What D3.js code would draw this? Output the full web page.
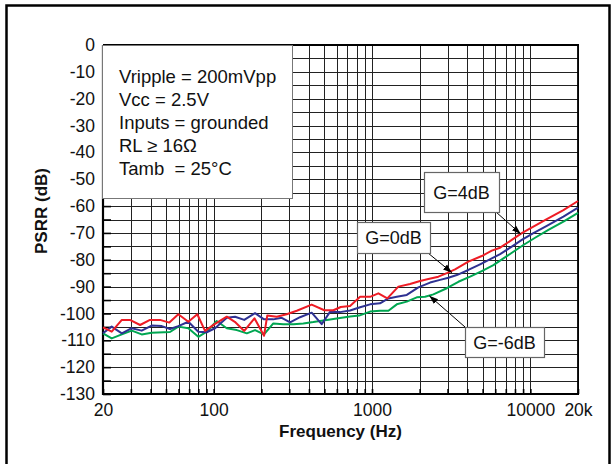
<!DOCTYPE html>
<html><head><meta charset="utf-8">
<script src="https://cdn.jsdelivr.net/npm/d3@7"></script>
<style>body{margin:0;background:#fff}svg{display:block}text{font-family:"Liberation Sans",Arial,Helvetica,sans-serif;white-space:pre}</style>
</head><body><svg id="c" width="615" height="464"></svg>
<script>
const xTickLabels = [20, 100, 1000, 10000, 20000];
const xTickText = ["20", "100", "1000", "10000", "20k"];
const xGrid = [20,30,40,50,60,70,80,90,100,200,300,400,500,600,700,800,900,1000,2000,3000,4000,5000,6000,7000,8000,9000,10000,20000];
const yTickLabels = [0,-10,-20,-30,-40,-50,-60,-70,-80,-90,-100,-110,-120,-130];
const yGrid = d3.range(0, -131, -5);

const redFreq = [20,22.7,26.3,29.6,34.3,39.6,45.8,52.5,59.8,69.2,78.8,88.2,102,121,136,156,181,208,218,250,289,335,416,500,570,635,727,841,972,1097,1250,1467,1739,2012,2270,2626,2968,3346,4060,4936,5708,6443,7635,8831,10454,12706,16176,20000];
const redVal = [-105.2,-106.8,-102.4,-102.4,-104.3,-102.4,-102.4,-103.4,-100.3,-103.1,-100.3,-106.5,-103.9,-101.2,-103.1,-106.5,-101.8,-108.3,-100.8,-101.2,-100.3,-99,-96.7,-98.8,-98.8,-97.6,-97.2,-93.8,-93.8,-92.5,-94.4,-90,-89,-87.9,-87.2,-86.3,-85,-83.6,-80.7,-78.6,-76.6,-75.5,-72.6,-70.1,-67.7,-64.9,-61.5,-58.1];

const blueFreq = [20,22.7,26.3,30.4,35.1,40.6,47,53,59.8,69.2,80,90.4,102,121,136.5,156,182.5,208,238,269,304,351,416,481,543,628,727,841,972,1124,1269,1434,1658,1962,2327,2692,3037,3431,4060,4815,5708,6443,7635,8831,10454,12706,16176,20000];
const blueVal = [-107.4,-104.9,-107.4,-105.5,-106.4,-104.5,-104.7,-105.8,-104.7,-103.1,-106.8,-107,-105.5,-101.6,-101.2,-102.4,-99.9,-102.2,-102.2,-101.6,-103.3,-101.4,-99.7,-104,-99.4,-99.5,-98.9,-97.7,-96.6,-96.2,-94.4,-93.8,-93.1,-90.3,-88.5,-87.5,-86.7,-85.7,-83.8,-81.7,-79.5,-77.9,-75.1,-72.6,-70.1,-67.4,-63.9,-60.6];

const greenFreq = [20,22.7,26.3,30.4,35.1,40.6,53,59.8,69.2,80,90.4,104.5,121,140,162,182.5,208,238,275,319,368,426,518,628,727,830,972,1124,1269,1434,1658,1918,2164,2442,2968,3512,4164,4936,5844,6759,7814,9038,10715,13003,16176,20000];
const greenVal = [-107.4,-109.3,-107.8,-106.4,-107.8,-107.2,-106.9,-104.9,-105.5,-108.7,-106.8,-102.8,-105.5,-106.2,-107.4,-106.2,-107.8,-103.7,-104,-104,-103.7,-103.2,-102.4,-101.7,-101.1,-100.8,-99.3,-99,-99,-96.6,-95.6,-94,-93.8,-92.9,-90.6,-88.2,-86.3,-84.2,-82,-79.5,-77,-74.5,-71.8,-68.9,-65.8,-62.5];

const seriesNames = ["G=4dB", "G=0dB", "G=-6dB"];
const seriesColors = ["#ee1c25", "#2e3192", "#00a651"];
const conditions = ["Vripple = 200mVpp", "Vcc = 2.5V", "Inputs = grounded", "RL \u2265 16\u03A9", "Tamb  = 25\u00B0C"];

const svg = d3.select("#c");
const L = 103, R = 578, T = 45, B = 394;
const x = d3.scaleLog().domain([20, 20000]).range([L, R]);
const y = d3.scaleLinear().domain([-130, 0]).range([B, T]);

// outer frame
svg.append("rect").attr("x", 6.5).attr("y", 5.5).attr("width", 603).attr("height", 470)
  .attr("fill", "none").attr("stroke", "#000").attr("stroke-width", 2.5);

// grid
const g = svg.append("g");
g.selectAll(".hg").data(yGrid).join("line")
  .attr("x1", L).attr("x2", R)
  .attr("y1", d => Math.round(y(d)) + 0.5).attr("y2", d => Math.round(y(d)) + 0.5)
  .attr("stroke", "#222").attr("stroke-width", 1);
g.selectAll(".vg").data(xGrid).join("line")
  .attr("y1", T).attr("y2", B)
  .attr("x1", d => Math.round(x(d)) + 0.5).attr("x2", d => Math.round(x(d)) + 0.5)
  .attr("stroke", "#222").attr("stroke-width", 1);

// axes: labels
const ya = svg.append("g").attr("transform", `translate(${L},0)`)
  .call(d3.axisLeft(y).tickValues(yTickLabels).tickSize(0).tickPadding(8).tickFormat(d => String(d)));
ya.select(".domain").remove();
ya.selectAll("text").attr("font-size", 17.5).attr("fill", "#111").attr("font-family", "Liberation Sans, Arial");
// minor inward ticks on left
svg.append("g").attr("transform", `translate(${L},0)`)
  .call(d3.axisRight(y).tickValues(yGrid).tickSize(8).tickFormat(""))
  .call(s => { s.select(".domain").remove(); s.selectAll("line").attr("stroke", "#000").attr("stroke-width", 1.6); });

const xa = svg.append("g").attr("transform", `translate(0,${B})`)
  .call(d3.axisBottom(x).tickValues(xTickLabels).tickSize(0).tickPadding(10).tickFormat((d, i) => xTickText[i]));
xa.select(".domain").remove();
xa.selectAll("text").attr("font-size", 17.5).attr("fill", "#111").attr("font-family", "Liberation Sans, Arial");
svg.append("g").attr("transform", `translate(0,${B})`)
  .call(d3.axisTop(x).tickValues(xGrid).tickSize(5).tickFormat(""))
  .call(s => { s.select(".domain").remove(); s.selectAll("line").attr("stroke", "#000").attr("stroke-width", 1.6); });

// frame of plot
svg.append("line").attr("x1", L).attr("x2", L).attr("y1", T).attr("y2", B + 1).attr("stroke", "#000").attr("stroke-width", 2.2);
svg.append("line").attr("x1", L).attr("x2", R + 1).attr("y1", B).attr("y2", B).attr("stroke", "#000").attr("stroke-width", 2.2);
svg.append("line").attr("x1", L).attr("x2", R + 1).attr("y1", T).attr("y2", T).attr("stroke", "#000").attr("stroke-width", 2);
svg.append("line").attr("x1", R).attr("x2", R).attr("y1", T).attr("y2", B).attr("stroke", "#000").attr("stroke-width", 1.8);

// series
const line = d3.line().x(d => x(d[0])).y(d => y(d[1]));
const series = [
  d3.zip(redFreq, redVal),
  d3.zip(blueFreq, blueVal),
  d3.zip(greenFreq, greenVal)
];
[2, 1, 0].forEach(i => {
  svg.append("path").datum(series[i]).attr("d", line)
    .attr("fill", "none").attr("stroke", seriesColors[i]).attr("stroke-width", 2).attr("stroke-linejoin", "round");
});

// conditions box
svg.append("rect").attr("x", 102.5).attr("y", 45.5).attr("width", 190).attr("height", 153)
  .attr("fill", "#fff").attr("stroke", "#777").attr("stroke-width", 1);
svg.append("g").selectAll("text").data(conditions).join("text")
  .attr("x", 119).attr("y", (d, i) => 83 + i * 23)
  .attr("font-size", 18.5).attr("fill", "#111").text(d => d);

// callouts
const defs = svg.append("defs");
defs.append("marker").attr("id", "ah").attr("viewBox", "0 0 10 10").attr("refX", 10).attr("refY", 5)
  .attr("markerWidth", 9).attr("markerHeight", 9).attr("markerUnits", "userSpaceOnUse").attr("orient", "auto")
  .append("path").attr("d", "M0,1.5 L10,5 L0,8.5 Z").attr("fill", "#000");

function callout(label, bx, by, bw, bh, ax1, ay1, tf, tv) {
  svg.append("line").attr("x1", ax1).attr("y1", ay1).attr("x2", x(tf)).attr("y2", y(tv))
    .attr("stroke", "#000").attr("stroke-width", 1).attr("marker-end", "url(#ah)");
  svg.append("rect").attr("x", bx + 0.5).attr("y", by + 0.5).attr("width", bw).attr("height", bh)
    .attr("fill", "#fff").attr("stroke", "#666").attr("stroke-width", 1.2);
  svg.append("text").attr("x", bx + bw / 2).attr("y", by + bh / 2 + 6.5).attr("text-anchor", "middle")
    .attr("font-size", 18).attr("fill", "#111").text(label);
}
callout(seriesNames[0], 424, 172, 75, 40, 496, 212, 8700, -70.4);
callout(seriesNames[1], 357, 222, 73, 31, 428, 253, 3200, -84.8);
callout(seriesNames[2], 465, 327, 79, 30, 465, 327, 2300, -93.4);

// axis titles
svg.append("text").attr("x", (L + R) / 2).attr("y", 437).attr("text-anchor", "middle")
  .attr("font-size", 17).attr("font-weight", "bold").attr("fill", "#111").text("Frequency (Hz)");
svg.append("text").attr("transform", "translate(47,211) rotate(-90)").attr("text-anchor", "middle")
  .attr("font-size", 17).attr("font-weight", "bold").attr("fill", "#111").text("PSRR (dB)");
</script></body></html>
